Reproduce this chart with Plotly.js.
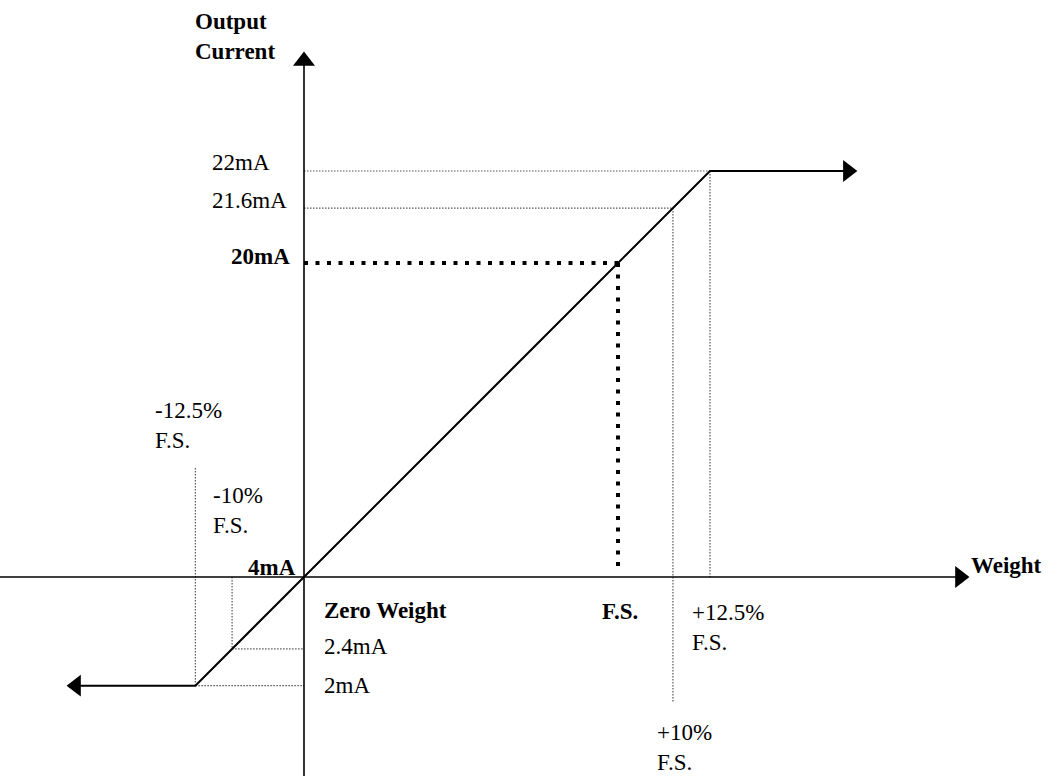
<!DOCTYPE html>
<html>
<head>
<meta charset="utf-8">
<script src="https://cdn.plot.ly/plotly-3.0.1.min.js"></script>
<style>html,body{margin:0;padding:0;background:#fff;}#chart{width:1058px;height:776px;}</style>
</head>
<body>
<div id="chart"></div>
<script>
// ---- data (diagram units: F.S. = 100 on weight axis, 20 mA = 100 above the 4 mA origin) ----
const weightLabels = ['-12.5%<br>F.S.', '-10%<br>F.S.', 'Zero Weight', 'F.S.', '+10%<br>F.S.', '+12.5%<br>F.S.'];
const weightPos    = [-34.6, -22.9, 0, 100, 117.5, 129.3];
const currentLabels = ['2mA', '2.4mA', '4mA', '20mA', '21.6mA', '22mA'];
const currentPos    = [-34.6, -22.9, 0, 100, 117.5, 129.3];
// output clamps and arrow extents
const clampEnds  = [-72.6, 173.2];     // where the flat saturated segments end (arrows)
const xAxisSpan  = [-100, 208.9];      // Weight axis extent
const yAxisSpan  = [-70, 164.3];       // Output Current axis extent
const plus10Drop = -40.1;              // +10% guide extends below axis
const minus125Rise = 34.7;             // -12.5% guide extends above axis

// ---- layout helpers ----
const W = 1058, H = 776, S = 3.14, OX = 304, OY = 577;
const xr = [-OX / S, (W - OX) / S];
const yr = [-(H - OY) / S, OY / S];

const thin = {color: '#555', width: 1.2, dash: '1.5px,1.5px'};
const heavy = {color: '#000', width: 4, dash: '4px,7.5px'};
function seg(xs, ys, line) {
  return {type: 'scatter', mode: 'lines', x: xs, y: ys, line: line, hoverinfo: 'skip', showlegend: false};
}
const i = {m125: 0, m10: 1, zero: 2, fs: 3, p10: 4, p125: 5};
const traces = [];
// thin dotted guides
traces.push(seg([0, weightPos[i.p125]], [currentPos[5], currentPos[5]], thin));          // 22mA
traces.push(seg([weightPos[i.p125], weightPos[i.p125]], [currentPos[5], 0], thin));
traces.push(seg([0, weightPos[i.p10]], [currentPos[4], currentPos[4]], thin));            // 21.6mA
traces.push(seg([weightPos[i.p10], weightPos[i.p10]], [currentPos[4], plus10Drop], thin));
traces.push(seg([weightPos[i.m10], 0], [currentPos[1], currentPos[1]], thin));            // 2.4mA
traces.push(seg([weightPos[i.m10], weightPos[i.m10]], [0, currentPos[1]], thin));
traces.push(seg([weightPos[i.m125], 0], [currentPos[0], currentPos[0]], thin));           // 2mA
traces.push(seg([weightPos[i.m125], weightPos[i.m125]], [minus125Rise, currentPos[0]], thin));
// heavy dotted 20mA / F.S.
traces.push(seg([0, weightPos[i.fs]], [currentPos[3], currentPos[3]], heavy));
traces.push(seg([weightPos[i.fs], weightPos[i.fs]], [currentPos[3], 1.5], heavy));
// axes
traces.push(seg(xAxisSpan, [0, 0], {color: '#000', width: 1.6}));
traces.push(seg([0, 0], yAxisSpan, {color: '#000', width: 1.6}));
// transfer curve
traces.push(seg([clampEnds[0], weightPos[i.m125], weightPos[i.p125], clampEnds[1]],
                [currentPos[0], currentPos[0], currentPos[5], currentPos[5]], {color: '#000', width: 2}));
// arrowheads
traces.push({type: 'scatter', mode: 'markers', hoverinfo: 'skip', showlegend: false,
  x: [xAxisSpan[1], 0, clampEnds[1], clampEnds[0]],
  y: [0, yAxisSpan[1], currentPos[5], currentPos[0]],
  marker: {symbol: ['triangle-right', 'triangle-up', 'triangle-right', 'triangle-left'],
           size: 19, color: '#000', line: {width: 0}}});

const FONT = "'Liberation Serif', 'Times New Roman', Times, serif";
function ann(text, x, y, xanchor, xshift, yshift, bold) {
  return {text: bold ? '<b>' + text + '</b>' : text, x: x, y: y, xref: 'x', yref: 'y',
    xanchor: xanchor, yanchor: 'middle', xshift: xshift, yshift: yshift, showarrow: false,
    align: 'left', font: {family: FONT, size: 23, color: '#000'}};
}
const annotations = [
  ann('Output<br>Current', 0, yAxisSpan[1], 'left', -111, 25, true),
  ann('Weight', xAxisSpan[1], 0, 'left', 9, 12, true),
  // current labels
  ann(currentLabels[5], 0, currentPos[5], 'right', -32, 9, false),
  ann(currentLabels[4], 0, currentPos[4], 'right', -15, 8, false),
  ann(currentLabels[3], 0, currentPos[3], 'right', -12, 7, true),
  ann(currentLabels[2], 0, currentPos[2], 'right', -6, 10, true),
  ann(currentLabels[1], 0, currentPos[1], 'left', 18, 2, false),
  ann(currentLabels[0], 0, currentPos[0], 'left', 18, 0, false),
  // weight labels
  ann(weightLabels[0], weightPos[0], 0, 'left', -42, 152, false),
  ann(weightLabels[1], weightPos[1], 0, 'left', -21, 67, false),
  ann(weightLabels[2], weightPos[2], 0, 'left', 18, -33, true),
  ann(weightLabels[3], weightPos[3], 0, 'center', 2, -34, true),
  ann(weightLabels[4], weightPos[4], 0, 'left', -18, -170, false),
  ann(weightLabels[5], weightPos[5], 0, 'left', -20, -50, false)
];

const layout = {
  width: W, height: H, margin: {l: 0, r: 0, t: 0, b: 0, pad: 0},
  paper_bgcolor: '#fff', plot_bgcolor: '#fff', showlegend: false,
  xaxis: {range: xr, visible: false, fixedrange: true},
  yaxis: {range: yr, visible: false, fixedrange: true},
  annotations: annotations
};
Plotly.newPlot('chart', traces, layout, {staticPlot: true, displayModeBar: false});
</script>
</body>
</html>
